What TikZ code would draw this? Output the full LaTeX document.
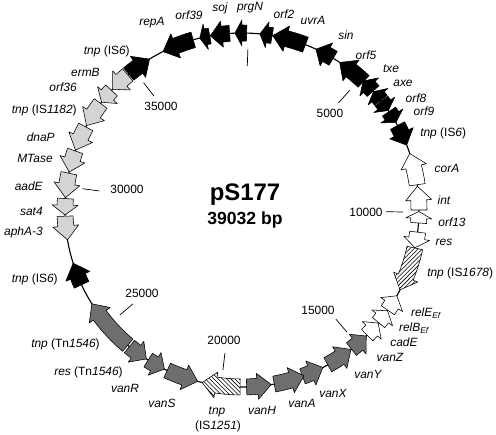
\documentclass[tikz,border=0pt]{standalone}
\usepackage{fontspec}
\setmainfont{Liberation Sans}
\usetikzlibrary{patterns}
% gene arrow: #1 tail angle, #2 head angle, #3 style
\newcommand{\gene}[3]{%
  \pgfmathsetmacro{\gspan}{abs(#2-#1)}%
  \pgfmathsetmacro{\ghl}{min(4.5,0.6*\gspan)}%
  \pgfmathsetmacro{\gneck}{#2-sign(#2-#1)*\ghl}%
  \draw[#3] (#1:169) arc[start angle=#1, end angle=\gneck, radius=169]
    -- (\gneck:164) -- (#2:177) -- (\gneck:190) -- (\gneck:185)
    arc[start angle=\gneck, end angle=#1, radius=185] -- cycle;}
\begin{document}
\begin{tikzpicture}[x=0.025cm, y=0.025cm, line join=round,
  blk/.style={draw, line width=.4pt, fill=black},
  wht/.style={draw, line width=.4pt, fill=white},
  ltg/.style={draw, line width=.4pt, fill=black!17},
  dkg/.style={draw, line width=.4pt, fill=black!57},
  hne/.style={draw, line width=.4pt, preaction={fill=white}, pattern=north east lines},
  hnw/.style={draw, line width=.4pt, preaction={fill=white}, pattern=north west lines},
  lbl/.style={inner sep=0pt, font=\fontsize{8.5}{10}\selectfont\itshape},
  num/.style={inner sep=0pt, font=\fontsize{8.5}{10}\selectfont}]
\useasboundingbox (-242,-225) rectangle (254,210);
\draw[line width=.8pt] (0,0) circle[radius=177];
\foreach \a in {87.9,48,-0.7,-49.3,-96.8,-139.3,172.4,127.7}
  \draw[line width=.5pt] (\a:144) -- (\a:161);
% backbone
\gene{106}{116.5}{blk}
\gene{100.5}{103.8}{blk}
\gene{94}{100.3}{blk}
\gene{88.5}{92.3}{blk}
\gene{80.2}{84.2}{blk}
\gene{69}{80}{blk}
\gene{59}{65.3}{blk}
\gene{46.6}{56.5}{blk}
\gene{42.2}{46.8}{blk}
\gene{38.3}{42}{blk}
\gene{38}{34.2}{blk}
\gene{33.8}{29.6}{blk}
\gene{28.5}{21.5}{blk}
\gene{129.8}{121.5}{blk}
\gene{-155}{-162.5}{blk}
% white genes
\gene{8.2}{18.6}{wht}
\gene{0}{7.7}{wht}
\gene{-4.2}{-0.5}{wht}
\gene{-7.2}{-12.3}{wht}
\gene{-34.5}{-29}{wht}
\gene{-39.5}{-34.7}{wht}
\gene{-45}{-39.7}{wht}
% insertion sequences
\gene{-12.4}{-26.8}{hne}
\gene{-90.6}{-103}{hnw}
% Tn1546
\gene{-51.8}{-45.4}{dkg}
\gene{-61}{-52}{dkg}
\gene{-70}{-62.8}{dkg}
\gene{-79.5}{-69.5}{dkg}
\gene{-88.5}{-80.5}{dkg}
\gene{-115}{-104.5}{dkg}
\gene{-122}{-116}{dkg}
\gene{-129.5}{-122.7}{dkg}
\gene{-130.2}{-148}{dkg}
% resistance region
\gene{182}{189.7}{ltg}
\gene{176.3}{181.6}{ltg}
\gene{168}{176}{ltg}
\gene{160.5}{167.6}{ltg}
\gene{152}{160.2}{ltg}
\gene{143}{151.5}{ltg}
\gene{137.5}{142.5}{ltg}
\gene{130.2}{137}{ltg}
% title
\node[font=\fontsize{17}{20}\selectfont\bfseries, inner sep=0pt] (name) at (3,15) {pS177};
\node[font=\fontsize{12.5}{15}\selectfont\bfseries, inner sep=0pt] (size) at (3,-10) {39032 bp};
% positions
\node[num] (p5) at (88,97) {5000};
\node[num] (p10) at (124,-2) {10000};
\node[num] (p15) at (76,-100) {15000};
\node[num] (p20) at (-18,-130) {20000};
\node[num] (p25) at (-100,-83) {25000};
\node[num] (p30) at (-115,21) {30000};
\node[num] (p35) at (-81,104) {35000};
% gene names
\node[lbl] (repA) at (-90,187) {repA};
\node[lbl] (orf39) at (-53,195) {orf39};
\node[lbl] (soj) at (-22,202) {soj};
\node[lbl] (prgN) at (8,202) {prgN};
\node[lbl] (orf2) at (42,196) {orf2};
\node[lbl] (uvrA) at (71,190) {uvrA};
\node[lbl] (sin) at (104,175) {sin};
\node[lbl] (orf5) at (124,155) {orf5};
\node[lbl] (txe) at (149,141) {txe};
\node[lbl] (axe) at (161,127) {axe};
\node[lbl] (orf8) at (174,112) {orf8};
\node[lbl] (orf9) at (182,99) {orf9};
\node[lbl, anchor=west] (tnpA) at (178,77) {tnp \textup{(IS\textit{6})}};
\node[lbl] (corA) at (205,42) {corA};
\node[lbl] (int) at (202,10) {int};
\node[lbl] (orf13) at (210,-12) {orf13};
\node[lbl] (res) at (202,-32) {res};
\node[lbl, anchor=west] (tnpB) at (185,-63) {tnp \textup{(IS\textit{1678})}};
\node[lbl] (relE) at (184,-103) {relE\textsubscript{Ef}};
\node[lbl] (relB) at (172,-118) {relB\textsubscript{Ef}};
\node[lbl] (cadE) at (162,-132) {cadE};
\node[lbl] (vanZ) at (148,-147) {vanZ};
\node[lbl] (vanY) at (126,-164) {vanY};
\node[lbl] (vanX) at (91,-183) {vanX};
\node[lbl] (vanA) at (60,-193) {vanA};
\node[lbl] (vanH) at (20,-200) {vanH};
\node[lbl] (tnpC) at (-25,-202) {tnp};
\node[num] (tnpCis) at (-24,-216) {(IS\textit{1251})};
\node[lbl] (vanS) at (-80,-193) {vanS};
\node[lbl] (vanR) at (-117,-178) {vanR};
\node[lbl, anchor=east] (resTn) at (-119,-162) {res \textup{(Tn\textit{1546})}};
\node[lbl, anchor=east] (tnpTn) at (-142,-134) {tnp \textup{(Tn\textit{1546})}};
\node[lbl, anchor=east] (tnpD) at (-184,-69) {tnp \textup{(IS\textit{6})}};
\node[lbl, anchor=east] (aphA) at (-199,-22) {aphA-3};
\node[lbl, anchor=east] (sat4) at (-199,-1) {sat4};
\node[lbl, anchor=east] (aadE) at (-199,24) {aadE};
\node[lbl, anchor=east] (MTase) at (-189,52) {MTase};
\node[lbl, anchor=east] (dnaP) at (-187,73) {dnaP};
\node[lbl, anchor=east] (tnpE) at (-165,100) {tnp \textup{(IS\textit{1182})}};
\node[lbl, anchor=east] (orf36) at (-165,123) {orf36};
\node[lbl, anchor=east] (ermB) at (-142,138) {ermB};
\node[lbl, anchor=east] (tnpF) at (-112,159) {tnp \textup{(IS\textit{6})}};
\end{tikzpicture}
\end{document}
